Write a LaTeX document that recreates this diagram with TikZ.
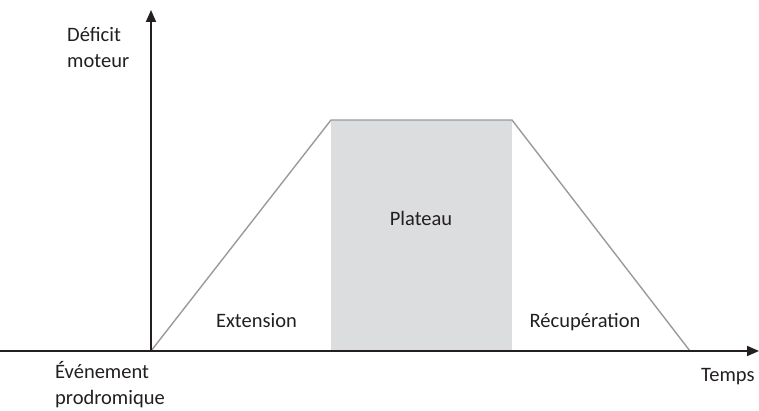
\documentclass[tikz,border=0pt]{standalone}
\usepackage{fontspec}
\setmainfont{Carlito}
\usetikzlibrary{arrows.meta}
\definecolor{axiscol}{HTML}{231F20}
\definecolor{trapcol}{HTML}{9A9A9B}
\definecolor{platcol}{HTML}{DCDDDE}
\tikzset{
  axis/.style={draw=axiscol, line width=1.8pt, -{Triangle[width=10pt,length=12pt]}},
  trap/.style={draw=trapcol, line width=1.4pt, line join=miter},
  lbl/.style={font=\fontsize{20.5}{26}\selectfont, text=axiscol, inner sep=0pt},
}
\begin{document}
\begin{tikzpicture}[x=1pt,y=1pt]
\useasboundingbox (0,0) rectangle (759,410);
\coordinate (o) at (151,59);
\coordinate (xe) at (0,59);
\coordinate (xt) at (759,59);
\coordinate (yt) at (151,400);
\coordinate (p1) at (331,290);
\coordinate (p2) at (512,290);
\coordinate (e) at (690,59);
\coordinate (b1) at (331,59);
\fill[platcol] (b1) rectangle (p2);
\draw[trap] (o) -- (p1) -- (p2) -- (e);
\draw[axis] (xe) -- (xt);
\draw[axis] (o) -- (yt);
\node[lbl, align=left, anchor=base west] (yl) at (67,342) {Déficit\\moteur};
\node[lbl, align=left, anchor=base west] (xl0) at (55,6) {Événement\\prodromique};
\node[lbl, anchor=base west] (xl) at (701,29) {Temps};
\node[lbl, anchor=base] (ext) at (256.5,83) {Extension};
\node[lbl, anchor=base] (pla) at (421,185) {Plateau};
\node[lbl, anchor=base] (rec) at (585,83) {Récupération};
\end{tikzpicture}
\end{document}
